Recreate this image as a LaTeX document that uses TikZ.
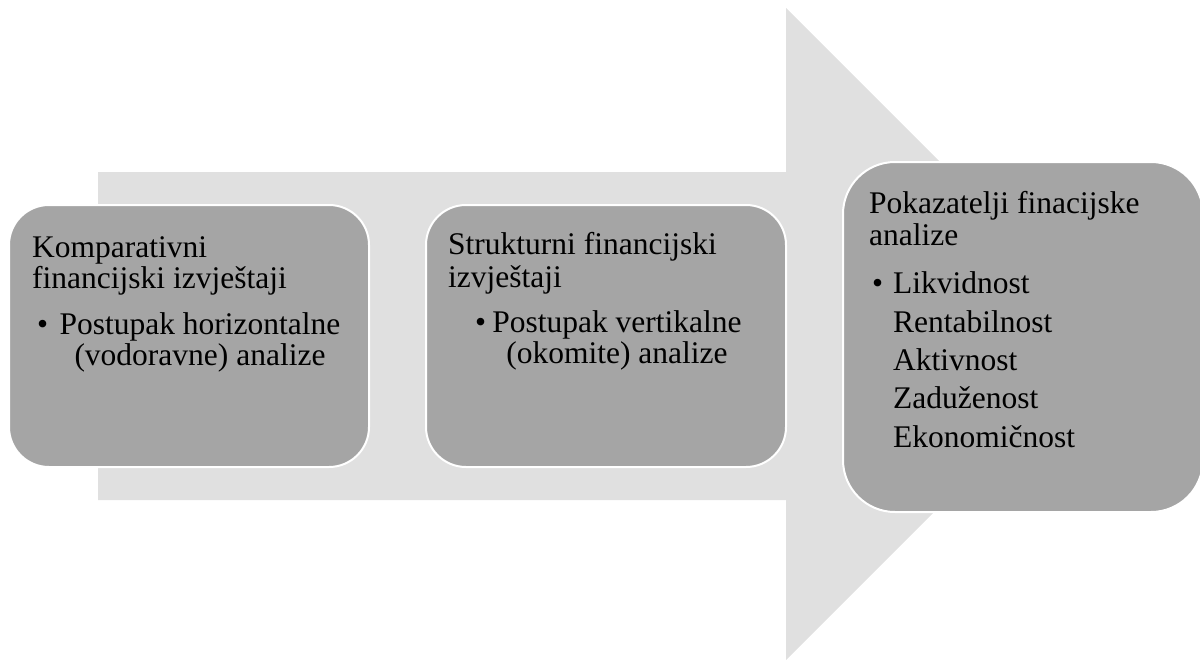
\documentclass[tikz,border=0pt]{standalone}
\usepackage{fontspec}
\setmainfont{Liberation Serif}
\definecolor{arrowgray}{RGB}{224,224,224}
\definecolor{boxgray}{RGB}{165,165,165}
\begin{document}
\begin{tikzpicture}[x=1pt,y=-1pt,
  box/.style={draw=white, line width=2pt, fill=boxgray, rounded corners=40pt,
    minimum width=360pt, minimum height=262pt, inner sep=0pt},
  bigbox/.style={box, rounded corners=52pt, minimum height=350pt},
  txt/.style={anchor=base west, inner sep=0pt, font=\fontsize{31.5}{32}\selectfont},
  ctxt/.style={txt, anchor=base}]
\useasboundingbox (0,0) rectangle (1200,661);
\fill[arrowgray] (98,172) -- (786,172) -- (786,8) -- (1112,334) -- (786,660) -- (786,500) -- (98,500) -- cycle;
\node[box] (b1) at (189,336) {};
\node[box] (b2) at (606,336) {};
\node[bigbox] (b3) at (1023,337) {};
% box 1
\node[txt] (t1a) at (32,257) {Komparativni};
\node[txt] (t1b) at (32,288) {financijski izvještaji};
\node[txt] (t1c) at (37,334) {•};
\node[ctxt] (t1d) at (200,334) {Postupak horizontalne};
\node[ctxt] (t1e) at (200,365) {(vodoravne) analize};
% box 2
\node[txt] (t2a) at (448,254) {Strukturni financijski};
\node[txt] (t2b) at (448,287) {izvještaji};
\node[txt] (t2c) at (475,332) {•};
\node[ctxt] (t2d) at (617,332) {Postupak vertikalne};
\node[ctxt] (t2e) at (617,363) {(okomite) analize};
% box 3
\node[txt] (t3a) at (869,213) {Pokazatelji finacijske};
\node[txt] (t3b) at (869,245) {analize};
\node[txt] (t3c) at (872,293) {•};
\node[txt] (t3d) at (893,293) {Likvidnost};
\node[txt] (t3e) at (893,332) {Rentabilnost};
\node[txt] (t3f) at (893,370) {Aktivnost};
\node[txt] (t3g) at (893,408) {Zaduženost};
\node[txt] (t3h) at (893,447) {Ekonomičnost};
\end{tikzpicture}
\end{document}
